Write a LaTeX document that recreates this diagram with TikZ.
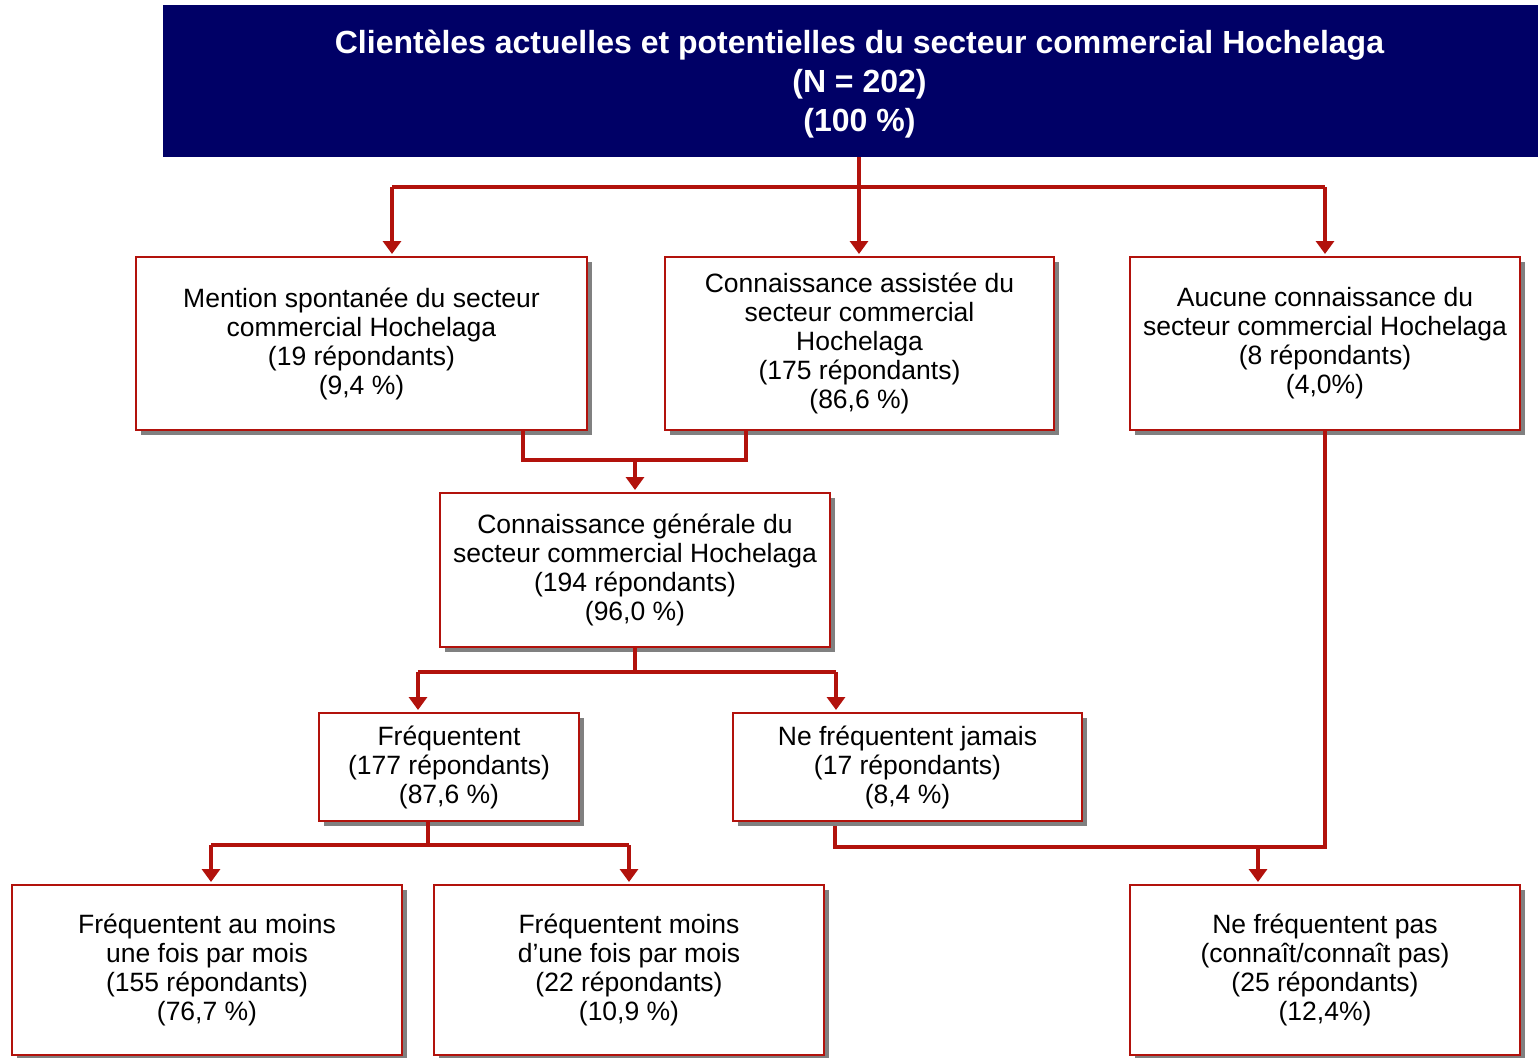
\documentclass[tikz,border=0pt]{standalone}
\usepackage{fontspec}
\setmainfont{Liberation Sans}
\usetikzlibrary{arrows.meta,shadows,positioning}
\definecolor{navy}{RGB}{0,0,102}
\definecolor{linered}{RGB}{178,18,12}
\definecolor{shadowgray}{RGB}{128,128,128}
\tikzset{
  box/.style={draw=linered, line width=2.5pt, fill=white, anchor=north west, inner sep=0pt, outer sep=0pt,
    align=center, font=\fontsize{26.5}{29}\selectfont,
    drop shadow={shadow xshift=5pt, shadow yshift=-5pt, fill=shadowgray, opacity=1}},
  conn/.style={draw=linered, line width=3.5pt},
  arr/.style={conn, -{Triangle[width=18pt,length=13pt]}, shorten >=3pt},
}
\begin{document}
\begin{tikzpicture}[x=1pt,y=-1pt]
\useasboundingbox (0,0) rectangle (1538,1057);
\node[fill=navy, anchor=north west, minimum width=1375, minimum height=152, inner sep=0pt, outer sep=0pt] (T) at (163,5) {};
\node[text=white, align=center, inner sep=0pt, font=\bfseries\fontsize{32}{39}\selectfont] (Tt) at (859.5,84)
  {Clientèles actuelles et potentielles du secteur commercial Hochelaga\\(N = 202)\\(100 \%)};
\node[box, minimum width=451, minimum height=173] (A) at (136,257)
  {Mention spontanée du secteur\\commercial Hochelaga\\(19 répondants)\\(9,4 \%)};
\node[box, minimum width=389, minimum height=173] (B) at (665,257)
  {Connaissance assistée du\\secteur commercial\\Hochelaga\\(175 répondants)\\(86,6 \%)};
\node[box, minimum width=390, minimum height=173] (C) at (1130,257)
  {Aucune connaissance du\\secteur commercial Hochelaga\\(8 répondants)\\(4,0\%)};
\node[box, minimum width=390, minimum height=154] (D) at (440,493)
  {Connaissance générale du\\secteur commercial Hochelaga\\(194 répondants)\\(96,0 \%)};
\node[box, minimum width=260, minimum height=108] (E) at (319,713)
  {Fréquentent\\(177 répondants)\\(87,6 \%)};
\node[box, minimum width=349, minimum height=108] (F) at (733,713)
  {Ne fréquentent jamais\\(17 répondants)\\(8,4 \%)};
\node[box, minimum width=390, minimum height=170] (G) at (12,885)
  {Fréquentent au moins\\une fois par mois\\(155 répondants)\\(76,7 \%)};
\node[box, minimum width=390, minimum height=170] (H) at (434,885)
  {Fréquentent moins\\d’une fois par mois\\(22 répondants)\\(10,9 \%)};
\node[box, minimum width=390, minimum height=170] (I) at (1130,885)
  {Ne fréquentent pas\\(connaît/connaît pas)\\(25 répondants)\\(12,4\%)};
% junction coordinates
\coordinate (j1) at (859,187);
\coordinate (xA) at (392,0);
\coordinate (xC) at (1325,0);
\coordinate (xAb) at (523,0);
\coordinate (xBb) at (746,0);
\coordinate (j2) at (635,460);
\coordinate (j3) at (635,672);
\coordinate (xE) at (418,0);
\coordinate (xF) at (836,0);
\coordinate (j4) at (428,845);
\coordinate (xG) at (211,0);
\coordinate (xH) at (629,0);
\coordinate (xFb) at (835,0);
\coordinate (j5) at (1325,847);
\coordinate (xI) at (1258,0);
% title connectors
\draw[conn] (T.south -| j1) -- (j1);
\draw[conn] (j1 -| xA) -- (j1 -| xC);
\draw[arr] (j1 -| xA) -- (A.north -| xA);
\draw[arr] (j1) -- (B.north -| j1);
\draw[arr] (j1 -| xC) -- (C.north -| xC);
% A,B -> D
\draw[conn] (A.south -| xAb) -- (j2 -| xAb) -- (j2 -| xBb) -- (B.south -| xBb);
\draw[arr] (j2) -- (D.north -| j2);
% D -> E,F
\draw[conn] (D.south -| j3) -- (j3);
\draw[conn] (j3 -| xE) -- (j3 -| xF);
\draw[arr] (j3 -| xE) -- (E.north -| xE);
\draw[arr] (j3 -| xF) -- (F.north -| xF);
% E -> G,H
\draw[conn] (E.south -| j4) -- (j4);
\draw[conn] (j4 -| xG) -- (j4 -| xH);
\draw[arr] (j4 -| xG) -- (G.north -| xG);
\draw[arr] (j4 -| xH) -- (H.north -| xH);
% F,C -> I
\draw[conn] ([yshift=-5pt]F.south -| xFb) -- (j5 -| xFb) -- (j5) -- (C.south -| j5);
\draw[arr] (j5 -| xI) -- (I.north -| xI);
\end{tikzpicture}
\end{document}
